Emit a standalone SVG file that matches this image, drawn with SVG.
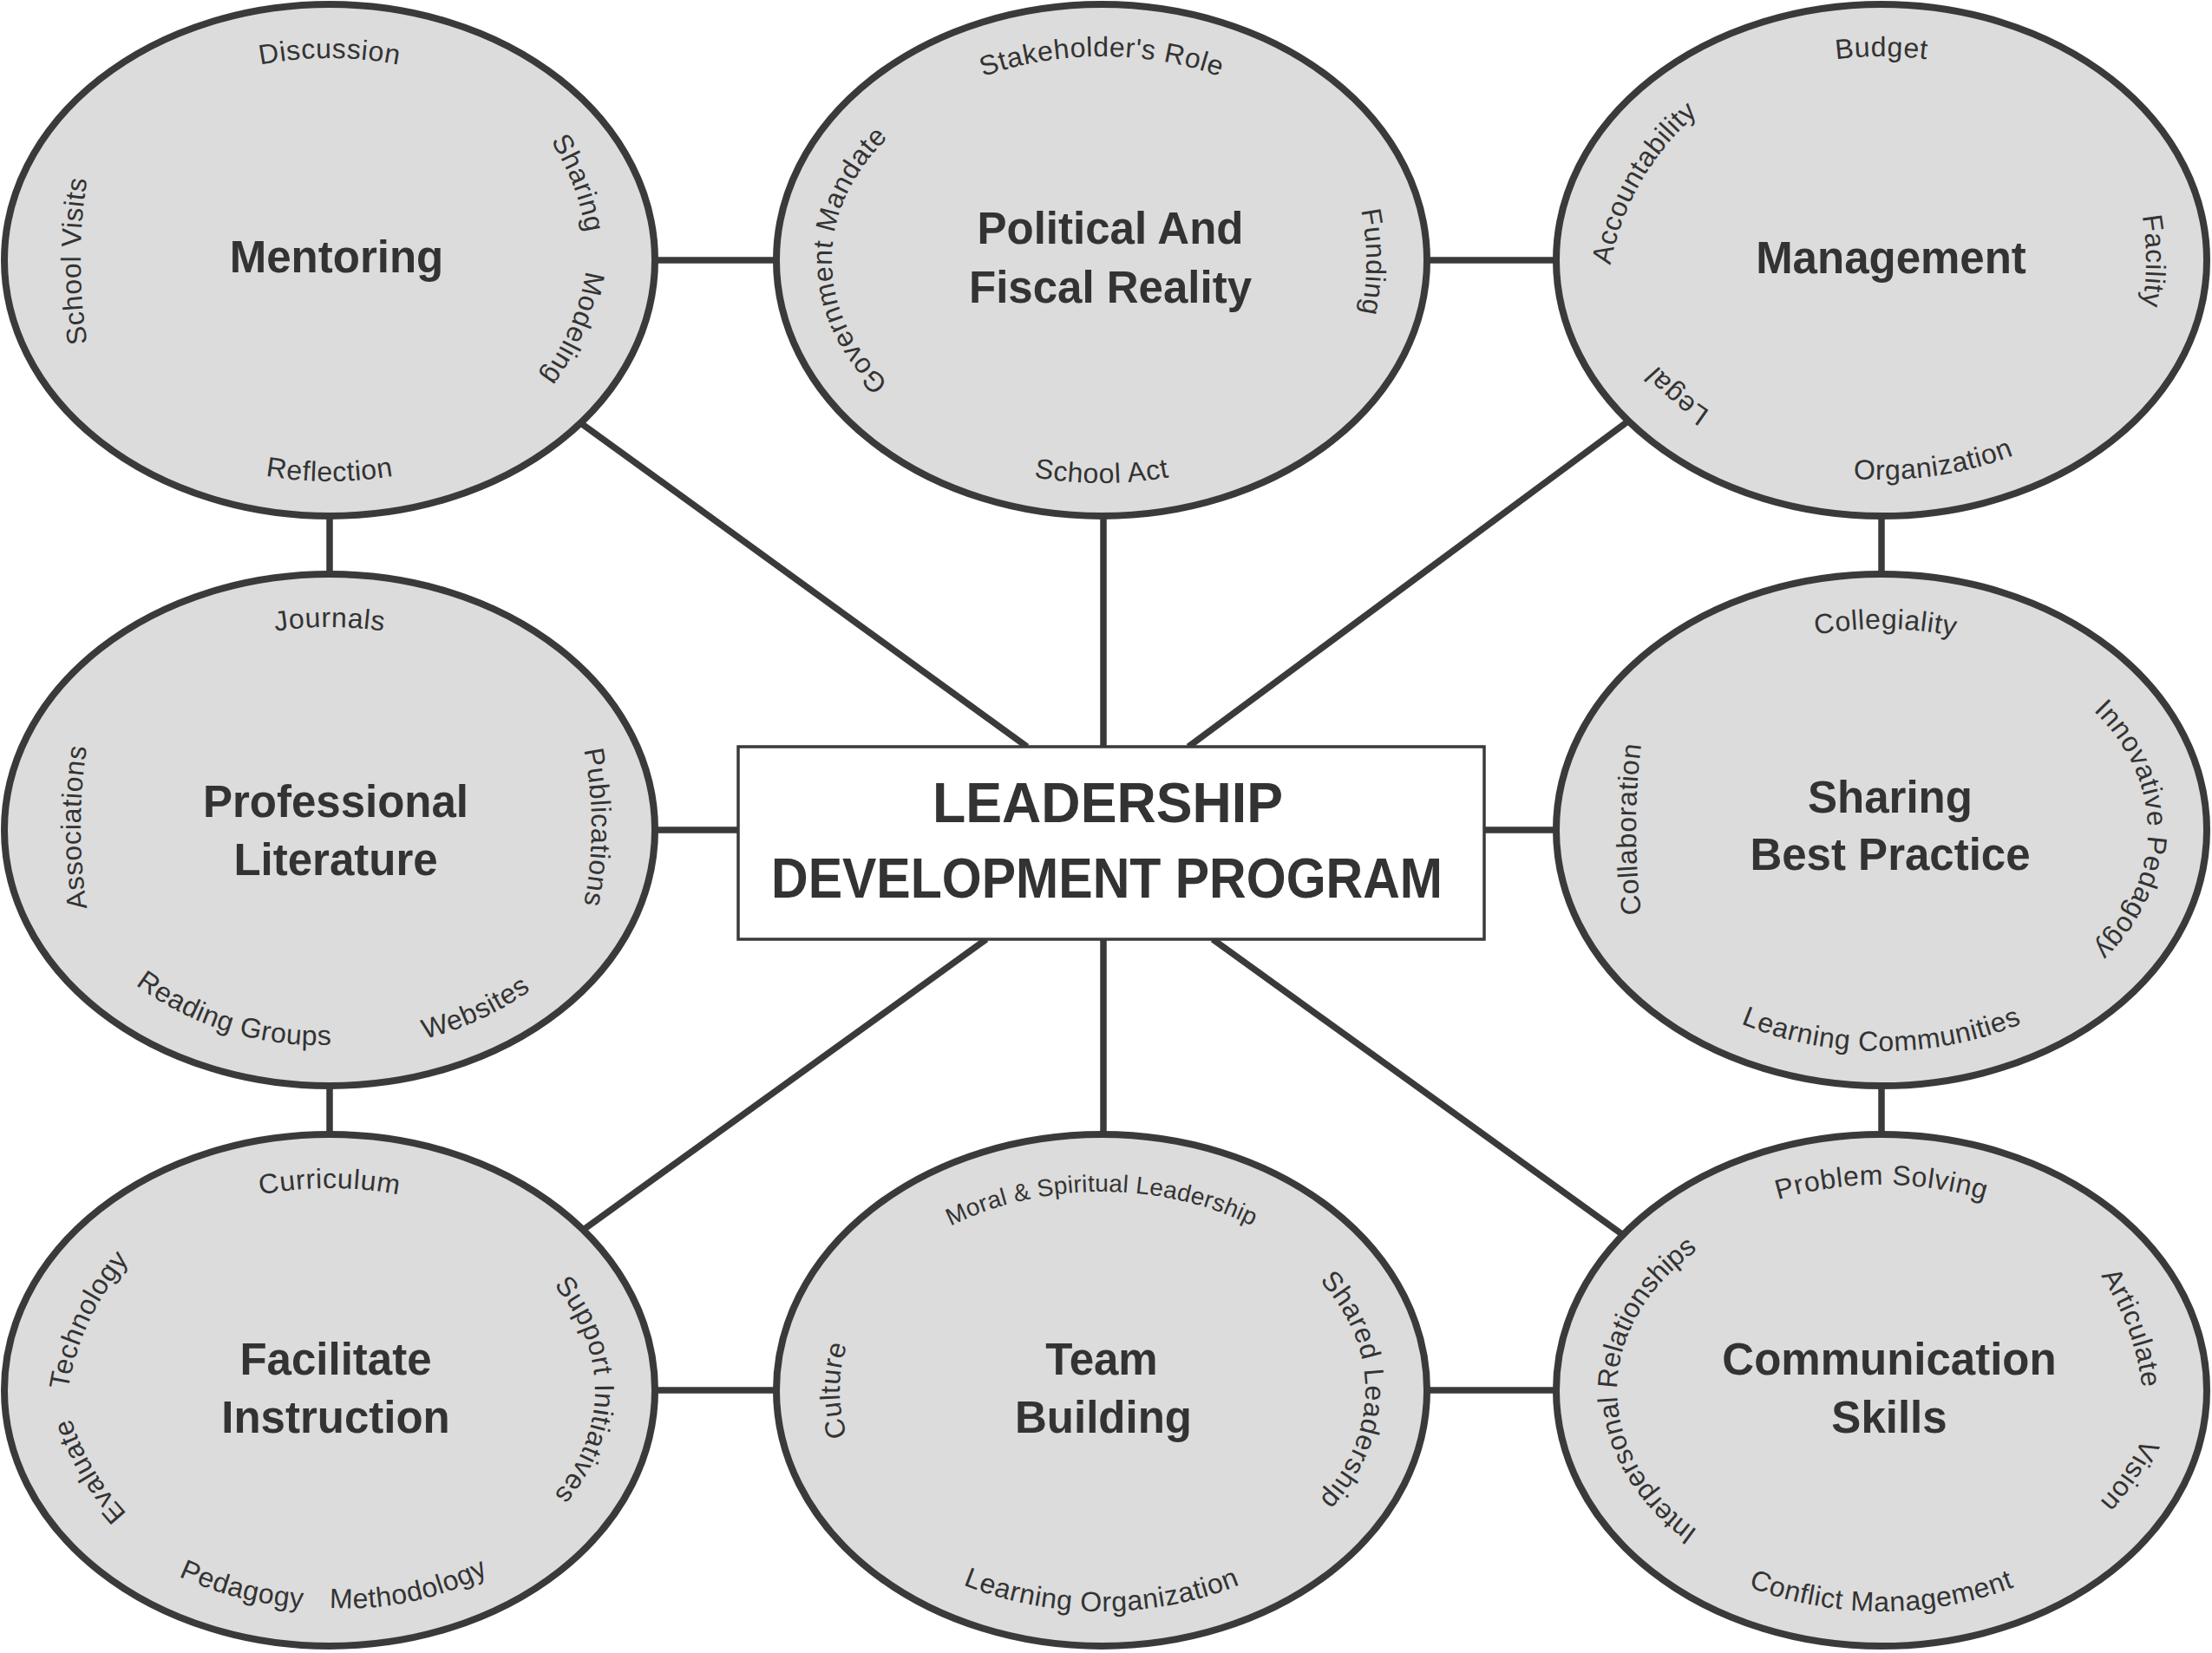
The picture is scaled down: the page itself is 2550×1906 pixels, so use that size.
<svg xmlns="http://www.w3.org/2000/svg" width="2550" height="1906" viewBox="0 0 2550 1906">
<style>
.bg{fill:#ffffff}
.conn line{stroke:#3a3a3a;stroke-width:7.5;stroke-linecap:butt}
.node ellipse{fill:#dcdcdc;stroke:#3a3a3a;stroke-width:8}
.title{font-family:"Liberation Sans",Arial,sans-serif;font-weight:bold;font-size:51px;fill:#333333;text-anchor:middle}
.lbl{font-family:"Liberation Sans",Arial,sans-serif;font-size:32px;fill:#333333;letter-spacing:0.6px}
.center rect{fill:#ffffff;stroke:#3a3a3a;stroke-width:3.5}
.ctitle{font-family:"Liberation Sans",Arial,sans-serif;font-weight:bold;font-size:65px;fill:#333333;text-anchor:middle}
</style>
<defs>
<path id="p1" d="M108.9,183.5 A313,233 0 0 1 651.1,183.5"/>
<path id="p2" d="M593.7,112.6 A280,280 0 0 1 678.5,333.5"/>
<path id="p3" d="M678.9,257.5 A280,280 0 0 1 586.4,475.4"/>
<path id="p4" d="M89.9,427.5 A335,255 0 0 0 670.1,427.5"/>
<path id="p5" d="M149.2,554.6 A600,600 0 0 1 149.2,47.4"/>
<path id="p6" d="M997.2,182.5 A315,235 0 0 1 1542.8,182.5"/>
<path id="p7" d="M1138.6,509.4 A311,231 0 0 1 1138.6,90.6"/>
<path id="p8" d="M1546.9,175.2 A300,300 0 0 1 1546.9,428.8"/>
<path id="p9" d="M993.9,447.4 A337,257 0 0 0 1546.1,447.4"/>
<path id="p10" d="M1911.0,165.2 A315,235 0 0 1 2427.0,165.2"/>
<path id="p11" d="M1851.7,359.5 A300,300 0 0 1 2001.7,99.7"/>
<path id="p12" d="M2445.9,174.2 A300,300 0 0 1 2445.9,427.8"/>
<path id="p13" d="M2028.4,503.3 A300,300 0 0 1 1873.5,368.6"/>
<path id="p14" d="M1987.6,512.2 A333,253 0 0 0 2448.3,437.8"/>
<path id="p15" d="M139.5,806.6 A314,234 0 0 1 620.5,806.6"/>
<path id="p16" d="M149.2,1207.6 A600,600 0 0 1 149.2,700.4"/>
<path id="p17" d="M639.8,763.8 A450,450 0 0 1 639.8,1144.2"/>
<path id="p18" d="M109.6,1093.7 A350,350 0 0 0 444.4,1196"/>
<path id="p19" d="M405.7,1207.4 A350,350 0 0 0 674.4,1083.8"/>
<path id="p20" d="M1933.5,804.8 A312,232 0 0 1 2411.5,811.0"/>
<path id="p21" d="M1934.2,1229.6 A800,800 0 0 1 1934.2,682.4"/>
<path id="p22" d="M2274.0,743.7 A307,227 0 0 1 2274.0,1170.3"/>
<path id="p23" d="M1878.9,1084.5 A335,255 0 0 0 2459.1,1084.5"/>
<path id="p24" d="M140.2,1453.2 A313,233 0 0 1 619.8,1453.2"/>
<path id="p25" d="M74.6,1649.5 A300,300 0 0 1 182.6,1420.1"/>
<path id="p26" d="M175.6,1772.8 A300,300 0 0 1 71.4,1596"/>
<path id="p27" d="M509.3,1398.2 A306,226 0 0 1 509.3,1807.8"/>
<path id="p28" d="M92.5,1729 A332,252 0 0 0 493.5,1839.8"/>
<path id="p29" d="M322.6,1845.5 A350,350 0 0 0 612,1784"/>
<path id="p30" d="M990.0,1506.2 A309,229 0 0 1 1550.0,1506.2"/>
<path id="p31" d="M1075.9,1773.1 A302,222 0 0 1 1075.9,1432.9"/>
<path id="p32" d="M1422,1409.0 A304,224 0 0 1 1422,1797.0"/>
<path id="p33" d="M979.9,1730.5 A335,255 0 0 0 1560.1,1730.5"/>
<path id="p34" d="M1909.3,1467.1 A317,237 0 0 1 2428.7,1467.1"/>
<path id="p35" d="M2090.1,1820.3 A305,225 0 0 1 2090.1,1385.7"/>
<path id="p36" d="M2394,1435.1 A300,300 0 0 1 2471.6,1646"/>
<path id="p37" d="M2490.4,1601.9 A300,300 0 0 1 2375.6,1771.9"/>
<path id="p38" d="M1878.9,1730.5 A335,255 0 0 0 2459.1,1730.5"/>
</defs>
<rect class="bg" x="0" y="0" width="2550" height="1906"/>
<g id="connectors" class="conn">
<line x1="755" y1="300" x2="895" y2="300"/>
<line x1="1645" y1="300" x2="1794" y2="300"/>
<line x1="380" y1="595" x2="380" y2="662"/>
<line x1="1272" y1="595" x2="1272" y2="861"/>
<line x1="2169" y1="595" x2="2169" y2="662"/>
<line x1="755" y1="957" x2="851" y2="957"/>
<line x1="1711" y1="957" x2="1794" y2="957"/>
<line x1="380" y1="1252" x2="380" y2="1308"/>
<line x1="2169" y1="1252" x2="2169" y2="1308"/>
<line x1="1272" y1="1083" x2="1272" y2="1308"/>
<line x1="755" y1="1603" x2="895" y2="1603"/>
<line x1="1645" y1="1603" x2="1794" y2="1603"/>
<line x1="660" y1="481" x2="1184" y2="861"/>
<line x1="1890" y1="476" x2="1370" y2="861"/>
<line x1="1137" y1="1083" x2="660" y2="1427"/>
<line x1="1398" y1="1083" x2="1885" y2="1434"/>
</g>
<g id="mentoring" class="node">
<ellipse cx="380" cy="300" rx="375" ry="295"/>
<text class="title" x="388" y="314">Mentoring</text>
<text class="lbl"><textPath href="#p1" startOffset="50%" text-anchor="middle">Discussion</textPath></text>
<text class="lbl"><textPath href="#p2" startOffset="50%" text-anchor="middle">Sharing</textPath></text>
<text class="lbl"><textPath href="#p3" startOffset="50%" text-anchor="middle">Modeling</textPath></text>
<text class="lbl"><textPath href="#p4" startOffset="50%" text-anchor="middle">Reflection</textPath></text>
<text class="lbl"><textPath href="#p5" startOffset="50%" text-anchor="middle">School Visits</textPath></text>
</g>
<g id="political" class="node">
<ellipse cx="1270" cy="300" rx="375" ry="295"/>
<text class="title" x="1280" y="281">Political And</text>
<text class="title" x="1280" y="349">Fiscal Reality</text>
<text class="lbl"><textPath href="#p6" startOffset="50%" text-anchor="middle">Stakeholder's Role</textPath></text>
<text class="lbl"><textPath href="#p7" startOffset="50%" text-anchor="middle">Government Mandate</textPath></text>
<text class="lbl"><textPath href="#p8" startOffset="50%" text-anchor="middle">Funding</textPath></text>
<text class="lbl"><textPath href="#p9" startOffset="50%" text-anchor="middle">School Act</textPath></text>
</g>
<g id="management" class="node">
<ellipse cx="2169" cy="300" rx="375" ry="295"/>
<text class="title" x="2180" y="315">Management</text>
<text class="lbl"><textPath href="#p10" startOffset="50%" text-anchor="middle">Budget</textPath></text>
<text class="lbl"><textPath href="#p11" startOffset="50%" text-anchor="middle">Accountability</textPath></text>
<text class="lbl"><textPath href="#p12" startOffset="50%" text-anchor="middle">Facility</textPath></text>
<text class="lbl"><textPath href="#p13" startOffset="50%" text-anchor="middle">Legal</textPath></text>
<text class="lbl"><textPath href="#p14" startOffset="50%" text-anchor="middle">Organization</textPath></text>
</g>
<g id="professional-literature" class="node">
<ellipse cx="380" cy="957" rx="375" ry="295"/>
<text class="title" x="387" y="942">Professional</text>
<text class="title" x="387" y="1009">Literature</text>
<text class="lbl"><textPath href="#p15" startOffset="50%" text-anchor="middle">Journals</textPath></text>
<text class="lbl"><textPath href="#p16" startOffset="50%" text-anchor="middle">Associations</textPath></text>
<text class="lbl"><textPath href="#p17" startOffset="50%" text-anchor="middle">Publications</textPath></text>
<text class="lbl"><textPath href="#p18" startOffset="50%" text-anchor="middle">Reading Groups</textPath></text>
<text class="lbl"><textPath href="#p19" startOffset="50%" text-anchor="middle">Websites</textPath></text>
</g>
<g id="sharing-best-practice" class="node">
<ellipse cx="2169" cy="957" rx="375" ry="295"/>
<text class="title" x="2179" y="937">Sharing</text>
<text class="title" x="2179" y="1003">Best Practice</text>
<text class="lbl"><textPath href="#p20" startOffset="50%" text-anchor="middle">Collegiality</textPath></text>
<text class="lbl"><textPath href="#p21" startOffset="50%" text-anchor="middle">Collaboration</textPath></text>
<text class="lbl"><textPath href="#p22" startOffset="50%" text-anchor="middle">Innovative Pedagogy</textPath></text>
<text class="lbl"><textPath href="#p23" startOffset="50%" text-anchor="middle">Learning Communities</textPath></text>
</g>
<g id="facilitate-instruction" class="node">
<ellipse cx="380" cy="1603" rx="375" ry="295"/>
<text class="title" x="387" y="1585">Facilitate</text>
<text class="title" x="387" y="1652">Instruction</text>
<text class="lbl"><textPath href="#p24" startOffset="50%" text-anchor="middle">Curriculum</textPath></text>
<text class="lbl"><textPath href="#p25" startOffset="50%" text-anchor="middle">Technology</textPath></text>
<text class="lbl"><textPath href="#p26" startOffset="50%" text-anchor="middle">Evaluate</textPath></text>
<text class="lbl"><textPath href="#p27" startOffset="50%" text-anchor="middle">Support Initiatives</textPath></text>
<text class="lbl"><textPath href="#p28" startOffset="50%" text-anchor="middle">Pedagogy</textPath></text>
<text class="lbl"><textPath href="#p29" startOffset="50%" text-anchor="middle">Methodology</textPath></text>
</g>
<g id="team-building" class="node">
<ellipse cx="1270" cy="1603" rx="375" ry="295"/>
<text class="title" x="1270" y="1585">Team</text>
<text class="title" x="1272" y="1652">Building</text>
<text class="lbl" style="font-size:28px;letter-spacing:0.3px"><textPath href="#p30" startOffset="50%" text-anchor="middle">Moral &amp; Spiritual Leadership</textPath></text>
<text class="lbl"><textPath href="#p31" startOffset="50%" text-anchor="middle">Culture</textPath></text>
<text class="lbl"><textPath href="#p32" startOffset="50%" text-anchor="middle">Shared Leadership</textPath></text>
<text class="lbl"><textPath href="#p33" startOffset="50%" text-anchor="middle">Learning Organization</textPath></text>
</g>
<g id="communication-skills" class="node">
<ellipse cx="2169" cy="1603" rx="375" ry="295"/>
<text class="title" x="2178" y="1585">Communication</text>
<text class="title" x="2178" y="1652">Skills</text>
<text class="lbl"><textPath href="#p34" startOffset="50%" text-anchor="middle">Problem Solving</textPath></text>
<text class="lbl" style="letter-spacing:0px"><textPath href="#p35" startOffset="50%" text-anchor="middle">Interpersonal Relationships</textPath></text>
<text class="lbl"><textPath href="#p36" startOffset="50%" text-anchor="middle">Articulate</textPath></text>
<text class="lbl"><textPath href="#p37" startOffset="50%" text-anchor="middle">Vision</textPath></text>
<text class="lbl"><textPath href="#p38" startOffset="50%" text-anchor="middle">Conflict Management</textPath></text>
</g>
<g id="leadership-development-program" class="center">
<rect x="851" y="861" width="860" height="222"/>
<text class="ctitle" x="1277" y="948" textLength="404" lengthAdjust="spacingAndGlyphs">LEADERSHIP</text>
<text class="ctitle" x="1276" y="1035" textLength="774" lengthAdjust="spacingAndGlyphs">DEVELOPMENT PROGRAM</text>
</g>
</svg>
